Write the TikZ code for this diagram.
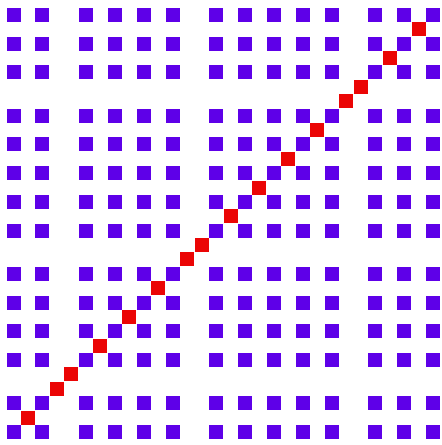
\documentclass[tikz,border=0pt]{standalone}
\definecolor{cellviolet}{RGB}{94,0,232}
\definecolor{cellred}{RGB}{235,5,5}
\tikzset{
  cell/.style={fill=cellviolet, draw=none},
  diagcell/.style={fill=cellred, draw=none}
}
\begin{document}
\begin{tikzpicture}[x=1pt,y=1pt]
  \useasboundingbox (0,0) rectangle (442,445);
  \fill[white] (0,0) rectangle (442,445);
  % purple grid cells at fine indices
  \foreach \i in {0,2,5,7,9,11,14,16,18,20,22,25,27,29}{
    \foreach \j in {0,2,5,7,9,11,14,16,18,20,22,25,27,29}{
      \path[cell] ({13.5+14.47*\i-7},{13+14.38*\j-7}) rectangle ++(14,14);
    }
  }
  % red diagonal cells
  \foreach \k in {1,3,4,6,8,10,12,13,15,17,19,21,23,24,26,28}{
    \path[diagcell] ({13.5+14.47*\k-7},{13+14.38*\k-7}) rectangle ++(14,14);
  }
\end{tikzpicture}
\end{document}
